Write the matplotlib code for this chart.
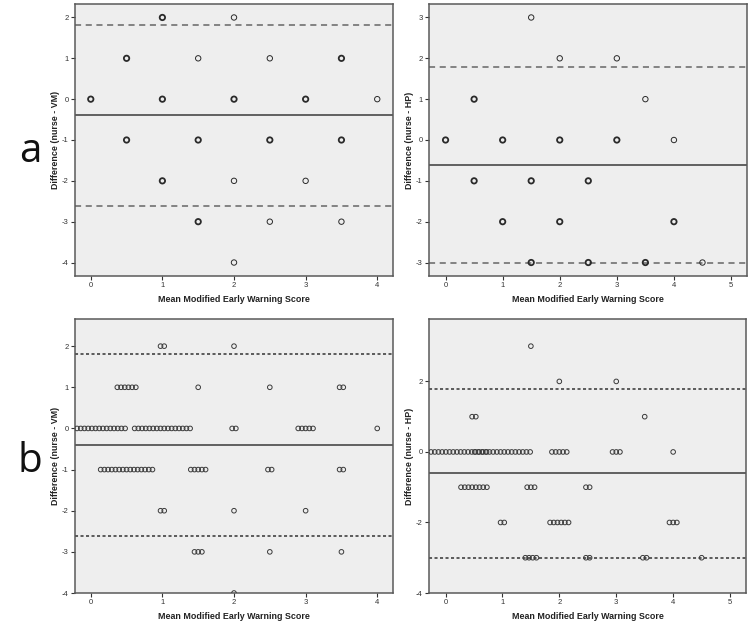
import numpy as np
import matplotlib.pyplot as plt

plt.rcParams['axes.unicode_minus'] = False

# nurse vs VM: mean score, difference, number of patients at that spot
vm_mean = [1, 2, 0.5, 1.5, 2.5, 3.5, 0, 1, 2, 3, 4, 0.5, 1.5, 2.5, 3.5, 1, 2, 3, 1.5, 2.5, 3.5, 2]
vm_diff = [2, 2, 1, 1, 1, 1, 0, 0, 0, 0, 0, -1, -1, -1, -1, -2, -2, -2, -3, -3, -3, -4]
vm_count = [2, 1, 6, 1, 1, 2, 14, 16, 2, 5, 1, 15, 5, 2, 2, 2, 1, 1, 3, 1, 1, 1]

# nurse vs HP
hp_mean = [1.5, 2, 3, 0.5, 3.5, 0, 1, 2, 3, 4, 0.5, 1.5, 2.5, 1, 2, 4, 1.5, 2.5, 3.5, 4.5]
hp_diff = [3, 2, 2, 1, 1, 0, 0, 0, 0, 0, -1, -1, -1, -2, -2, -2, -3, -3, -3, -3]
hp_count = [1, 1, 1, 2, 1, 16, 16, 5, 3, 1, 8, 3, 2, 2, 6, 3, 4, 2, 2, 1]

# bias and limits of agreement
vm_lines = [-0.4, 1.81, -2.62]
hp_lines = [-0.6, 1.79, -3.0]

W, H = 752, 631
fig = plt.figure(figsize=(W / 100, H / 100), dpi=100)
fig.patch.set_facecolor('white')

label_font = ['Liberation Sans Narrow', 'Liberation Sans', 'DejaVu Sans']
tick_font = ['Liberation Sans', 'DejaVu Sans']


def make_ax(l, r, t, b):
    return fig.add_axes([l / W, 1 - b / H, (r - l) / W, (b - t) / H])


def draw_panel(ax, means, diffs, counts, lines, xlim, ylim, yticks, xticks,
               ylabel, spread, dash, dash_col):
    ax.set_facecolor('#EEEEEE')
    ax.set_xlim(*xlim)
    ax.set_ylim(*ylim)

    bias, upper, lower = lines
    ax.axhline(bias, color='#555555', lw=1.3, zorder=2)
    for v in (upper, lower):
        ax.axhline(v, color=dash_col, lw=1.1, ls=(0, dash), zorder=2)

    if spread:
        width_px = ax.get_position().width * W
        step = 3.7 * (xlim[1] - xlim[0]) / width_px
        for m, d, c in zip(means, diffs, counts):
            xs = m + (np.arange(c) - (c - 1) / 2) * step
            lo = xlim[0] + step * 0.55
            if xs[0] < lo:
                xs = xs + (lo - xs[0])
            ax.scatter(xs, [d] * c, s=11, facecolors='none',
                       edgecolors='#3a3a3a', linewidths=0.7, zorder=3)
    else:
        for m, d, c in zip(means, diffs, counts):
            ax.scatter([m], [d], s=15, facecolors='none',
                       edgecolors='#2a2a2a', linewidths=1.3 if c > 1 else 0.7,
                       zorder=3)

    ax.set_xticks(xticks)
    ax.set_yticks(yticks)
    ax.tick_params(length=3, width=0.8, color='#333333', labelsize=5.5,
                   labelcolor='#333333', pad=1.5)
    for lab in ax.get_xticklabels() + ax.get_yticklabels():
        lab.set_family(tick_font)
    for s in ax.spines.values():
        s.set_color('#5a5a5a')
        s.set_linewidth(1.1)

    ax.set_xlabel('Mean Modified Early Warning Score', fontsize=6.4,
                  fontweight='bold', family=label_font, labelpad=4,
                  color='#222222')
    ax.set_ylabel(ylabel, fontsize=6.4, fontweight='bold', family=label_font,
                  labelpad=1.5, color='#222222')


ax1 = make_ax(75, 393, 4, 276)
draw_panel(ax1, vm_mean, vm_diff, vm_count, vm_lines, (-0.22, 4.22),
           (-4.33, 2.33), [2, 1, 0, -1, -2, -3, -4], [0, 1, 2, 3, 4],
           'Difference (nurse - VM)', False, (4, 3), '#666666')

ax2 = make_ax(429, 747, 4, 276)
draw_panel(ax2, hp_mean, hp_diff, hp_count, hp_lines, (-0.29, 5.28),
           (-3.33, 3.33), [3, 2, 1, 0, -1, -2, -3], [0, 1, 2, 3, 4, 5],
           'Difference (nurse - HP)', False, (4, 3), '#666666')

ax3 = make_ax(75, 393, 319, 593)
draw_panel(ax3, vm_mean, vm_diff, vm_count, vm_lines, (-0.22, 4.22),
           (-4.0, 2.66), [2, 1, 0, -1, -2, -3, -4], [0, 1, 2, 3, 4],
           'Difference (nurse - VM)', True, (2, 1.6), '#333333')

ax4 = make_ax(429, 746, 319, 593)
draw_panel(ax4, hp_mean, hp_diff, hp_count, hp_lines, (-0.29, 5.28),
           (-4.0, 3.77), [2, 0, -2, -4], [0, 1, 2, 3, 4, 5],
           'Difference (nurse - HP)', True, (2, 1.6), '#333333')

fig.text(30 / W, 1 - 152 / H, 'a', fontsize=29, family=['Open Sans', 'DejaVu Sans'],
         ha='center', va='center', color='#111111')
fig.text(30 / W, 1 - 462 / H, 'b', fontsize=29, family=['Open Sans', 'DejaVu Sans'],
         ha='center', va='center', color='#111111')

fig.savefig('out.png', dpi=100, facecolor='white')
